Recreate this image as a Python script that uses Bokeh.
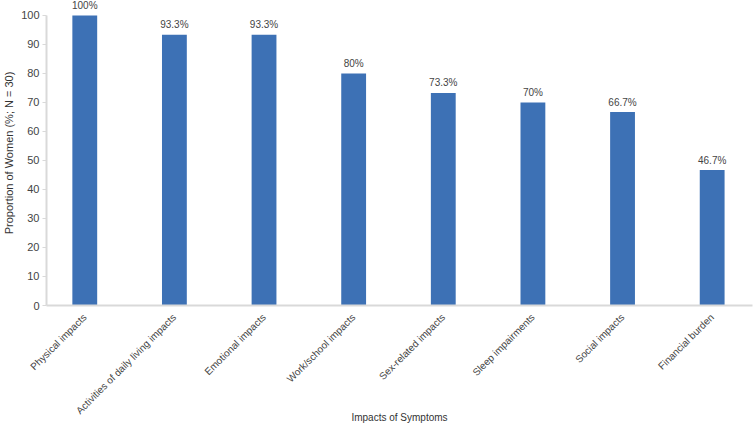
from bokeh.plotting import figure
from bokeh.models import Range1d, FixedTicker, ColumnDataSource
from bokeh.core.properties import value
from bokeh.embed import file_html
from bokeh.resources import INLINE

categories = ["Physical impacts", "Activities of daily living impacts", "Emotional impacts",
              "Work/school impacts", "Sex-related impacts", "Sleep impairments",
              "Social impacts", "Financial burden"]
values = [100, 93.3, 93.3, 80, 73.3, 70, 66.7, 46.7]
labels = ["100%", "93.3%", "93.3%", "80%", "73.3%", "70%", "66.7%", "46.7%"]
y_ticks = [0, 10, 20, 30, 40, 50, 60, 70, 80, 90, 100]

FONT = "Liberation Sans"
BAR = "#3d71b5"

xs = list(range(len(categories)))
src = ColumnDataSource(dict(x=xs, top=values, label=labels))

p = figure(width=754, height=425, output_backend="svg", toolbar_location=None,
           x_range=Range1d(-0.427, 7.45), y_range=Range1d(0, 105.15),
           min_border_top=0, min_border_left=42, min_border_right=2, min_border_bottom=119)
p.outline_line_color = None
p.grid.grid_line_color = None
p.background_fill_color = "white"
p.border_fill_color = "white"

p.vbar(x="x", top="top", bottom=0, width=0.277, source=src, fill_color=BAR, line_color=None)
p.text(x="x", y="top", text="label", source=src, text_align="center", text_baseline="alphabetic",
       y_offset=-10, text_font=value(FONT), text_font_size="10px", text_color="#444444")

# x axis
xa = p.xaxis[0]
xa.ticker = FixedTicker(ticks=xs)
xa.major_label_overrides = {i: c for i, c in zip(xs, categories)}
xa.major_label_orientation = 0.785398
xa.major_label_text_font = FONT
xa.major_label_text_font_size = "10px"
xa.major_label_text_color = "#444444"
xa.major_label_standoff = 4
xa.major_tick_line_color = None
xa.minor_tick_line_color = None
xa.axis_line_color = "#d9d9d9"
xa.axis_line_width = 2
xa.axis_label = "Impacts of Symptoms"
xa.axis_label_text_font = FONT
xa.axis_label_text_font_size = "10px"
xa.axis_label_text_font_style = "normal"
xa.axis_label_text_color = "#333333"
xa.axis_label_standoff = -11

# y axis
ya = p.yaxis[0]
ya.ticker = FixedTicker(ticks=y_ticks)
ya.bounds = (0, 100)
ya.major_label_text_font = FONT
ya.major_label_text_font_size = "11px"
ya.major_label_text_color = "#444444"
ya.major_label_standoff = 3
ya.major_tick_out = 4
ya.major_tick_in = 0
ya.major_tick_line_color = "#d9d9d9"
ya.minor_tick_line_color = None
ya.axis_line_color = "#d9d9d9"
ya.axis_line_width = 2
ya.axis_label = "Proportion of Women (%; N = 30)"
ya.axis_label_text_font = FONT
ya.axis_label_text_font_size = "11px"
ya.axis_label_text_font_style = "normal"
ya.axis_label_text_color = "#333333"
ya.axis_label_standoff = 3

open("out.html", "w").write(file_html(p, INLINE))
